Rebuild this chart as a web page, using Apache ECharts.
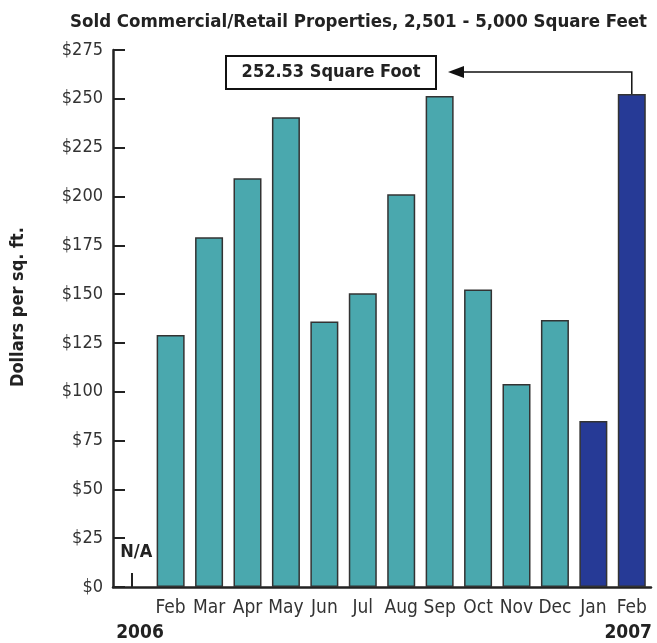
<!DOCTYPE html>
<html>
<head>
<meta charset="utf-8">
<script src="https://cdn.jsdelivr.net/npm/echarts@6/dist/echarts.min.js"></script>
<style>
html,body{margin:0;padding:0;background:#fff;}
#chart{width:657px;height:643px;}
</style>
</head>
<body>
<div id="chart"></div>
<script>
// ---- data ----
var categories = ['Jan 2006','Feb 2006','Mar 2006','Apr 2006','May 2006','Jun 2006','Jul 2006','Aug 2006','Sep 2006','Oct 2006','Nov 2006','Dec 2006','Jan 2007','Feb 2007'];
var monthLabels = ['', 'Feb','Mar','Apr','May','Jun','Jul','Aug','Sep','Oct','Nov','Dec','Jan','Feb'];
var years = ['2006','2006','2006','2006','2006','2006','2006','2006','2006','2006','2006','2006','2007','2007'];
var values = [null, 129.0, 179.1, 209.3, 240.5, 136.0, 150.4, 201.1, 251.4, 152.4, 103.9, 136.7, 85.0, 252.53];
var yTicks = [0, 25, 50, 75, 100, 125, 150, 175, 200, 225, 250, 275];
var titleText = 'Sold Commercial/Retail Properties, 2,501 - 5,000 Square Feet';
var yAxisTitle = 'Dollars per sq. ft.';
var annotationText = '252.53 Square Foot';
var naText = 'N/A';

var FONT = '"Liberation Sans Narrow", "DejaVu Sans Condensed", "Liberation Sans", Arial, sans-serif';
var TEAL = '#4AA8AE';
var NAVY = '#263A96';

var chart = echarts.init(document.getElementById('chart'), null, {renderer: 'canvas'});

var option = {
  animation: false,
  backgroundColor: '#ffffff',
  title: {
    text: titleText,
    right: 5,
    top: 8,
    textStyle: {fontFamily: FONT, fontWeight: 'bold', fontSize: 18.5, color: '#222'}
  },
  grid: {left: 113, right: 6, top: 50, bottom: 56, containLabel: false, outerBoundsMode: 'none'},
  xAxis: {
    type: 'category',
    data: categories,
    boundaryGap: true,
    axisLine: {show: true, lineStyle: {color: '#222', width: 2.5}},
    axisTick: {
      show: true, inside: true, length: 14, alignWithLabel: true,
      interval: function (idx) { return idx === 0; },
      lineStyle: {color: '#222', width: 2}
    },
    axisLabel: {
      interval: 0,
      margin: 12,
      fontFamily: FONT, fontSize: 19, color: '#333',
      formatter: function (v, i) { return monthLabels[i]; }
    },
    splitLine: {show: false}
  },
  yAxis: {
    type: 'value',
    min: yTicks[0],
    max: yTicks[yTicks.length - 1],
    interval: yTicks[1] - yTicks[0],
    axisLine: {show: true, lineStyle: {color: '#222', width: 2.5}},
    axisTick: {show: true, inside: true, length: 12, lineStyle: {color: '#222', width: 2}},
    axisLabel: {
      margin: 10,
      fontFamily: FONT, fontSize: 18, color: '#333',
      formatter: function (v) { return '$' + v; }
    },
    splitLine: {show: false}
  },
  series: [{
    type: 'bar',
    data: values,
    barWidth: 28,
    itemStyle: {
      color: function (p) { return years[p.dataIndex] === '2007' ? NAVY : TEAL; },
      borderColor: '#333',
      borderWidth: 1.5
    }
  }]
};
chart.setOption(option);

function drawOverlay() {
  var last = values.length - 1;
  var top = chart.convertToPixel({xAxisIndex: 0, yAxisIndex: 0}, [last, values[last]]);
  var na = chart.convertToPixel({xAxisIndex: 0, yAxisIndex: 0}, [0, 18]);
  var arrowY = 72;
  var boxLeft = 226, boxRight = 436, boxTop = 56, boxBottom = 89;
  var tipX = 448;
  chart.setOption({
    graphic: [
      // y axis title
      {type: 'text', x: 18, y: 307, rotation: Math.PI / 2,
       style: {text: yAxisTitle, fontFamily: FONT, fontWeight: 'bold', fontSize: 18, fill: '#222',
               align: 'center', verticalAlign: 'middle'}, z: 10},
      // annotation box
      {type: 'rect', shape: {x: boxLeft, y: boxTop, width: boxRight - boxLeft, height: boxBottom - boxTop},
       style: {fill: '#fff', stroke: '#111', lineWidth: 2}, z: 10},
      {type: 'text', x: (boxLeft + boxRight) / 2, y: (boxTop + boxBottom) / 2,
       style: {text: annotationText, fontFamily: FONT, fontWeight: 'bold', fontSize: 18, fill: '#222',
               align: 'center', verticalAlign: 'middle'}, z: 11},
      // arrow path from bar top
      {type: 'polyline', shape: {points: [[top[0], top[1]], [top[0], arrowY], [tipX + 12, arrowY]]},
       style: {stroke: '#111', lineWidth: 1.5, fill: null}, z: 10},
      {type: 'polygon', shape: {points: [[tipX, arrowY], [tipX + 16, arrowY - 6], [tipX + 16, arrowY + 6]]},
       style: {fill: '#111'}, z: 10},
      // N/A label
      {type: 'text', x: na[0] + 4, y: na[1],
       style: {text: naText, fontFamily: FONT, fontWeight: 'bold', fontSize: 18, fill: '#222',
               align: 'center', verticalAlign: 'middle'}, z: 10},
      // year labels
      {type: 'text', x: 140, y: 633,
       style: {text: '2006', fontFamily: FONT, fontWeight: 'bold', fontSize: 19, fill: '#222',
               align: 'center', verticalAlign: 'middle'}, z: 10},
      {type: 'text', x: 652, y: 633,
       style: {text: '2007', fontFamily: FONT, fontWeight: 'bold', fontSize: 19, fill: '#222',
               align: 'right', verticalAlign: 'middle'}, z: 10}
    ]
  });
}
drawOverlay();
</script>
</body>
</html>
